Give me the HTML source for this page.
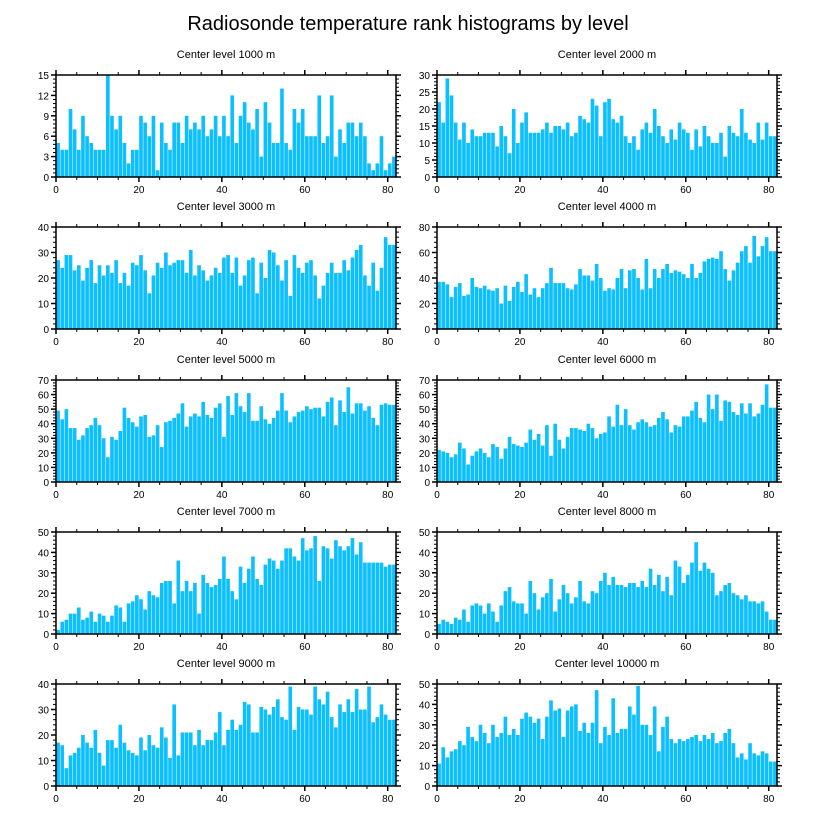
<!DOCTYPE html>
<html><head><meta charset="utf-8"><style>
body{margin:0;background:#fff;}
svg text{font-family:"Liberation Sans",sans-serif;fill:#000;}
</style></head><body>
<svg id="c" width="816" height="824">
<text x="408" y="30" font-size="20" text-anchor="middle">Radiosonde temperature rank histograms by level</text>
</svg>
<script>
const levels = ["1000","2000","3000","4000","5000","6000","7000","8000","9000","10000"];
const yMaxes = [15,30,40,80,70,70,50,50,40,50];
const yStep = [3,5,10,20,10,10,10,10,10,10];
const xTicks = [0,20,40,60,80];
const v1000 = [5,4,4,10,7,4,9,6,5,4,4,4,15,9,7,9,5,2,4,4,9,8,6,9,1,8,5,4,8,8,5,9,7,8,7,9,6,7,9,6,9,6,12,5,9,11,8,7,10,3,11,8,5,5,13,5,4,10,8,10,6,6,6,12,5,6,12,3,7,5,8,8,6,8,6,2,1,2,6,1,2,3];
const v2000 = [22,16,29,24,16,11,16,10,14,12,12,13,13,13,9,15,12,7,20,10,16,19,13,13,13,14,16,13,15,15,14,16,12,13,18,17,16,23,21,12,22,23,17,16,18,12,10,12,8,14,16,13,20,15,12,10,14,11,16,14,13,8,14,9,15,12,10,10,13,6,15,13,12,20,13,11,10,16,11,16,12,12];
const v3000 = [27,24,29,29,23,25,19,24,27,18,25,21,25,22,27,18,22,17,26,25,29,23,14,21,26,24,30,25,26,27,27,22,31,21,25,23,19,21,24,22,28,29,22,28,17,21,27,28,14,26,20,31,30,25,19,27,13,29,24,22,26,27,21,12,17,22,26,22,22,27,23,28,31,33,21,17,26,15,24,36,33,33];
const v4000 = [37,37,35,25,33,36,26,27,40,33,32,34,31,30,32,20,34,22,33,37,29,43,27,32,25,32,36,48,36,36,36,32,31,35,47,42,42,38,51,40,30,32,31,40,47,32,46,47,40,31,55,32,47,40,47,51,44,46,45,43,40,51,40,44,53,55,56,55,61,47,38,46,52,61,65,52,73,57,65,72,61,61];
const v5000 = [49,43,50,37,37,29,32,37,39,44,39,30,17,31,29,35,51,44,41,38,45,46,31,32,39,24,41,42,44,47,54,38,45,47,45,55,46,44,51,54,31,59,46,61,52,48,61,42,42,52,43,40,44,49,61,49,41,45,48,49,52,50,51,51,45,55,58,39,56,48,65,47,54,54,49,52,44,39,53,54,53,53];
const v6000 = [22,21,20,17,19,27,23,12,18,21,23,20,17,26,24,16,23,31,26,25,24,27,36,29,33,25,39,18,40,29,23,31,37,37,36,35,40,37,30,33,34,45,38,53,39,50,39,36,41,43,41,38,39,44,48,43,34,39,38,45,45,49,55,44,41,60,50,60,42,56,55,48,46,54,47,54,45,47,53,67,51,51];
const v7000 = [2,6,7,10,10,13,7,8,11,6,10,9,6,9,14,13,6,15,16,19,17,12,21,19,18,25,26,26,15,36,21,26,21,25,10,29,25,23,24,27,38,27,21,17,33,25,32,38,27,24,34,37,36,32,36,42,42,38,36,47,41,42,48,26,43,42,37,46,43,41,43,47,39,45,35,35,35,35,35,33,34,34];
const v8000 = [5,7,6,5,8,7,12,6,14,15,14,10,15,11,6,14,21,23,16,15,15,10,26,20,12,18,20,27,11,17,24,20,15,18,26,16,15,21,20,26,30,24,28,24,24,23,25,25,23,26,23,32,24,29,21,28,19,36,33,25,29,35,45,31,35,32,30,19,21,24,25,20,19,17,19,16,16,15,16,11,7,7];
const v9000 = [17,16,7,12,13,15,20,17,15,22,13,8,18,18,15,24,17,14,13,12,19,14,20,16,15,23,19,11,32,12,21,21,21,16,22,16,18,18,21,29,16,22,26,22,24,33,32,21,21,31,30,28,31,34,27,26,39,22,31,30,30,28,39,34,32,37,27,23,32,29,34,29,38,30,30,39,25,27,32,28,26,26];
const v10000 = [11,19,14,17,18,22,20,29,24,22,30,26,21,30,24,26,34,25,28,25,33,36,34,31,33,23,34,42,37,38,24,37,39,40,27,31,26,31,47,21,29,25,43,26,28,28,39,35,49,30,30,25,39,17,29,34,23,21,23,22,23,24,25,22,25,23,26,21,22,26,28,21,14,16,13,21,16,15,17,16,12,12];
const series = [v1000,v2000,v3000,v4000,v5000,v6000,v7000,v8000,v9000,v10000];

const svg = document.getElementById('c');
const NS = 'http://www.w3.org/2000/svg';
function mk(tag, attrs, parent){const e=document.createElementNS(NS,tag);for(const k in attrs)e.setAttribute(k,attrs[k]);parent.appendChild(e);return e;}
const XMAX = 82, PW = 340, PH = 102;
const lefts = [56,437], tops = [75,227,380,532,684];

series.forEach((vals,i)=>{
  const px = lefts[i%2], py = tops[Math.floor(i/2)];
  const ymax = yMaxes[i];
  const sx = v => px + v/XMAX*PW;
  const sy = v => py + PH - v/ymax*PH;
  const g = mk('g',{},svg);
  
  
  const t = mk('text',{x:px+PW/2,y:py-17,'font-size':11,'text-anchor':'middle'},g);
  t.textContent = 'Center level '+levels[i]+' m';
  
  
  vals.forEach((v,k)=>{
    const r = mk('rect',{x:sx(k)+0.25,y:sy(v),width:PW/XMAX-0.5,height:sy(0)-sy(v),fill:'#0cc0ff'},g);
    
    
  });
  mk('rect',{x:px,y:py,width:PW,height:PH,fill:'none',stroke:'#000','stroke-width':1.5},g);
  // x ticks
  for(let u=0;u<=XMAX;u+=5){
    const major = u%20===0, L = major?5:3;
    mk('line',{x1:sx(u),x2:sx(u),y1:py+PH,y2:py+PH+L,stroke:'#000','stroke-width':major?1.5:1},g);
    mk('line',{x1:sx(u),x2:sx(u),y1:py,y2:py-L,stroke:'#000','stroke-width':major?1.5:1},g);
  }
  xTicks.forEach(u=>{
    const tl = mk('text',{x:sx(u),y:py+PH+16,'font-size':10,'text-anchor':'middle'},g);
    tl.textContent = u;
    
    
  });
  // y ticks
  const minor = yStep[i]/5;
  for(let u=0;u<=ymax+1e-9;u+=minor){
    const isMaj = Math.abs(u/yStep[i]-Math.round(u/yStep[i]))<1e-6, L = isMaj?5:3;
    mk('line',{x1:px,x2:px-L,y1:sy(u),y2:sy(u),stroke:'#000','stroke-width':isMaj?1.5:1},g);
    mk('line',{x1:px+PW,x2:px+PW+L,y1:sy(u),y2:sy(u),stroke:'#000','stroke-width':isMaj?1.5:1},g);
  }
  for(let u=0;u<=ymax;u+=yStep[i]){
    const tl = mk('text',{x:px-7,y:sy(u)+4,'font-size':10,'text-anchor':'end'},g);
    tl.textContent = u;
    
    
  }
});
</script>
</body></html>
